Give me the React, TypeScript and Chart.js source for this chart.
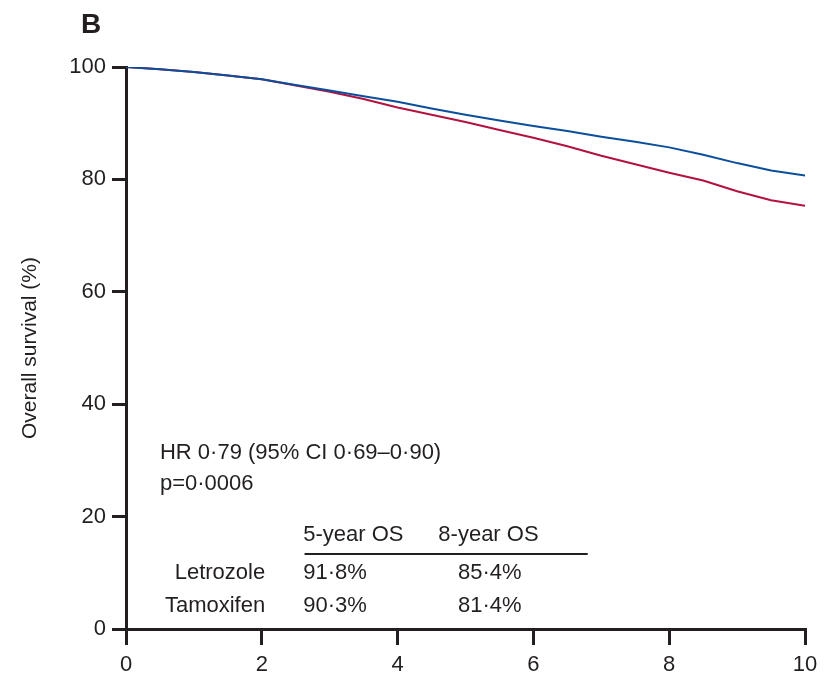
import React, { useEffect, useRef } from "react";
import { Chart, registerables } from "chart.js";

Chart.register(...registerables);

const years = [0, 0.5, 1, 1.5, 2, 2.5, 3, 3.5, 4, 4.5, 5, 5.5, 6, 6.5, 7, 7.5, 8, 8.5, 9, 9.5, 10];
const letrozole = [100, 99.6, 99.1, 98.5, 97.8, 96.8, 95.8, 94.8, 93.8, 92.6, 91.5, 90.5, 89.5, 88.6, 87.6, 86.7, 85.7, 84.4, 82.9, 81.6, 80.7];
const tamoxifen = [100, 99.6, 99.1, 98.5, 97.8, 96.7, 95.6, 94.3, 92.8, 91.5, 90.2, 88.8, 87.4, 85.9, 84.2, 82.7, 81.2, 79.8, 77.9, 76.3, 75.3];

const xTicks = [0, 2, 4, 6, 8, 10];
const yTicks = [0, 20, 40, 60, 80, 100];

const panelLabel = "B";
const yTitle = "Overall survival (%)";
const hrText = "HR 0\u00b779 (95% CI 0\u00b769\u20130\u00b790)";
const pText = "p=0\u00b70006";
const tableHeaders = ["5-year OS", "8-year OS"];
const tableRows = ["Letrozole", "Tamoxifen"];
const tableValues = [
  ["91\u00b78%", "85\u00b74%"],
  ["90\u00b73%", "81\u00b74%"],
];

const INK = "#231f20";
const FONT = "'Liberation Sans', Arial, sans-serif";

const annotationPlugin = {
  id: "annot",
  afterDraw(chart: any) {
    const ctx = chart.ctx;
    const xs = chart.scales.x;
    const ys = chart.scales.y;
    const X = (v: number) => xs.getPixelForValue(v);
    const Y = (v: number) => ys.getPixelForValue(v);
    ctx.save();
    ctx.fillStyle = INK;
    // panel label
    ctx.font = `bold 28px ${FONT}`;
    ctx.textAlign = "left";
    ctx.textBaseline = "alphabetic";
    ctx.fillText(panelLabel, 81, 33);

    ctx.font = `22px ${FONT}`;
    ctx.textBaseline = "middle";
    ctx.fillText(hrText, X(0.5), Y(31.3));
    ctx.fillText(pText, X(0.5), Y(25.8));

    ctx.fillText(tableHeaders[0], X(2.61), Y(16.8));
    ctx.fillText(tableHeaders[1], X(4.6), Y(16.8));

    ctx.strokeStyle = INK;
    ctx.lineWidth = 2;
    ctx.beginPath();
    ctx.moveTo(X(2.63), Y(13.35));
    ctx.lineTo(X(6.8), Y(13.35));
    ctx.stroke();

    const rowY = [10.0, 4.1];
    tableRows.forEach((r, i) => {
      ctx.textAlign = "right";
      ctx.fillText(r, X(2.05), Y(rowY[i]));
      ctx.textAlign = "left";
      ctx.fillText(tableValues[i][0], X(2.61), Y(rowY[i]));
      ctx.fillText(tableValues[i][1], X(4.89), Y(rowY[i]));
    });
    ctx.restore();
  },
};

export default function App() {
  const ref = useRef<HTMLCanvasElement>(null);
  useEffect(() => {
    if (!ref.current) return;
    const chart = new Chart(ref.current, {
      type: "line",
      data: {
        datasets: [
          {
            label: "Letrozole",
            data: years.map((x, i) => ({ x, y: letrozole[i] })),
            borderColor: "#0b4f9c",
            borderWidth: 2,
            pointRadius: 0,
            tension: 0,
          },
          {
            label: "Tamoxifen",
            data: years.map((x, i) => ({ x, y: tamoxifen[i] })),
            borderColor: "#b3123f",
            borderWidth: 2,
            pointRadius: 0,
            tension: 0,
          },
        ],
      },
      options: {
        animation: false,
        responsive: false,
        maintainAspectRatio: false,
        layout: { padding: { top: 67, right: 30, left: 0, bottom: 0 } },
        plugins: { legend: { display: false }, tooltip: { enabled: false } },
        scales: {
          x: {
            type: "linear",
            min: 0,
            max: 10,
            afterBuildTicks: (s: any) => {
              s.ticks = xTicks.map((v) => ({ value: v }));
            },
            ticks: { color: INK, font: { size: 22, family: FONT }, padding: 7, maxRotation: 0 },
            grid: { drawOnChartArea: false, tickLength: 16, lineWidth: 3, color: INK },
            border: { width: 3, color: INK },
            afterFit: (s: any) => {
              s.height = 49;
            },
          },
          y: {
            type: "linear",
            min: 0,
            max: 100,
            afterBuildTicks: (s: any) => {
              s.ticks = yTicks.map((v) => ({ value: v }));
            },
            ticks: { color: INK, font: { size: 22, family: FONT }, padding: 6 },
            grid: { drawOnChartArea: false, tickLength: 14, lineWidth: 3, color: INK },
            border: { width: 3, color: INK },
            title: {
              display: true,
              text: yTitle,
              color: INK,
              font: { size: 21, family: FONT },
              padding: { top: 18, bottom: 0 },
            },
            afterFit: (s: any) => {
              s.width = 126;
            },
          },
        },
      },
      plugins: [annotationPlugin],
    } as any);
    return () => chart.destroy();
  }, []);
  return (
    <div style={{ position: "fixed", left: 0, top: 0, width: 835, height: 678, background: "#fff" }}>
      <canvas ref={ref} width={835} height={678} style={{ display: "block" }} />
    </div>
  );
}
